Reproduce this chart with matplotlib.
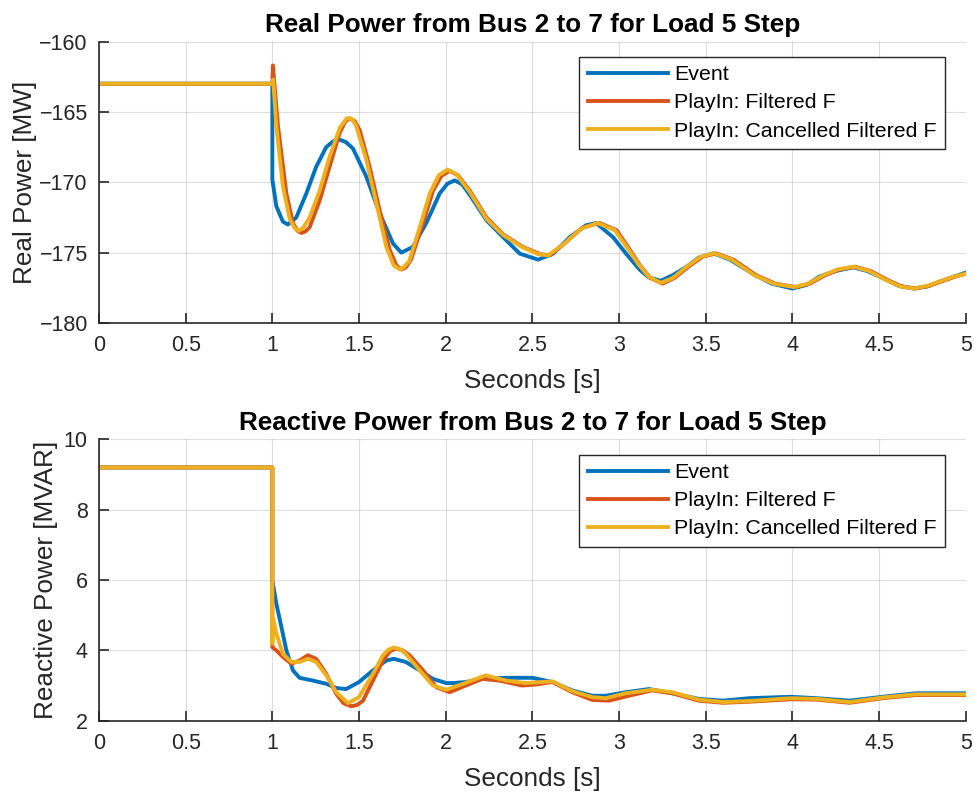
import matplotlib
matplotlib.use('Agg')
import matplotlib.pyplot as plt
from matplotlib.ticker import FuncFormatter

plt.rcParams['font.family'] = ['Liberation Sans', 'DejaVu Sans']

# ---- Real power (MW), Bus 2 -> 7 ----
p_event_t = [0, 1.0, 1.0, 1.023, 1.061, 1.09, 1.138, 1.196, 1.253, 1.311, 1.35, 1.388,
             1.425, 1.465, 1.542, 1.619, 1.696, 1.744, 1.81, 1.888, 1.965, 2.01, 2.052,
             2.095, 2.139, 2.235, 2.331, 2.427, 2.533, 2.62, 2.716, 2.81, 2.868, 2.965,
             3.04, 3.118, 3.17, 3.24, 3.31, 3.39, 3.46, 3.544, 3.64, 3.77, 3.88, 4.0,
             4.08, 4.156, 4.25, 4.349, 4.43, 4.52, 4.61, 4.7, 4.78, 4.848, 4.92, 5.0]
p_event = [-163, -163, -169.8, -171.7, -172.8, -173.0, -172.5, -170.8, -168.9, -167.5,
           -167.1, -166.97, -167.15, -167.6, -169.6, -172.2, -174.35, -175.0, -174.6,
           -172.9, -170.8, -170.1, -169.87, -170.15, -170.9, -172.7, -173.9, -175.07,
           -175.5, -175.07, -173.9, -173.05, -172.9, -173.9, -175.07, -176.2, -176.75,
           -177.0, -176.6, -176.0, -175.35, -175.05, -175.5, -176.5, -177.2, -177.55,
           -177.3, -176.7, -176.3, -176.05, -176.3, -176.8, -177.35, -177.55, -177.4,
           -177.06, -176.75, -176.42]

p_filt_t = [0, 1.0, 1.003, 1.033, 1.081, 1.119, 1.145, 1.167, 1.19, 1.215, 1.273, 1.33,
            1.388, 1.42, 1.446, 1.475, 1.504, 1.561, 1.619, 1.677, 1.715, 1.744, 1.77,
            1.8, 1.869, 1.927, 1.975, 2.023, 2.07, 2.139, 2.235, 2.331, 2.446, 2.543,
            2.6, 2.69, 2.79, 2.888, 2.985, 3.062, 3.12, 3.18, 3.25, 3.32, 3.4, 3.48,
            3.56, 3.66, 3.79, 3.9, 4.02, 4.1, 4.19, 4.27, 4.36, 4.45, 4.55, 4.63, 4.71,
            4.79, 4.87, 4.94, 5.0]
p_filt = [-163, -163, -161.7, -166.07, -170.8, -172.9, -173.45, -173.6, -173.5, -173.2,
          -171.3, -168.9, -166.5, -165.7, -165.45, -165.65, -166.3, -168.9, -172.0,
          -174.8, -175.9, -176.2, -176.05, -175.5, -172.9, -170.6, -169.55, -169.2,
          -169.5, -170.6, -172.5, -173.7, -174.6, -175.1, -175.2, -174.3, -173.2,
          -172.9, -173.4, -174.8, -175.9, -176.8, -177.2, -176.8, -176.0, -175.3,
          -175.05, -175.5, -176.6, -177.2, -177.45, -177.2, -176.6, -176.2, -176.0,
          -176.3, -176.95, -177.4, -177.55, -177.35, -177.0, -176.7, -176.5]

p_canc_t = [0, 1.0, 1.005, 1.023, 1.061, 1.1, 1.128, 1.153, 1.18, 1.215, 1.273, 1.33,
            1.39, 1.43, 1.46, 1.484, 1.542, 1.6, 1.658, 1.7, 1.735, 1.76, 1.79, 1.85,
            1.908, 1.96, 2.01, 2.06, 2.139, 2.235, 2.331, 2.44, 2.53, 2.59, 2.68, 2.78,
            2.875, 2.975, 3.05, 3.11, 3.17, 3.24, 3.31, 3.39, 3.47, 3.55, 3.65, 3.78,
            3.89, 4.01, 4.09, 4.18, 4.26, 4.35, 4.44, 4.54, 4.62, 4.7, 4.78, 4.86, 4.93,
            5.0]
p_canc = [-163, -163, -162.7, -166.0, -170.3, -172.6, -173.25, -173.45, -173.2, -172.5,
          -170.6, -168.2, -166.1, -165.45, -165.5, -166.0, -168.4, -171.5, -174.6,
          -175.9, -176.2, -176.0, -175.6, -173.2, -170.8, -169.5, -169.1, -169.4,
          -170.7, -172.6, -173.75, -174.6, -175.1, -175.2, -174.4, -173.3, -172.9,
          -173.4, -174.7, -175.8, -176.7, -177.15, -176.8, -176.0, -175.3, -175.05,
          -175.5, -176.6, -177.2, -177.45, -177.2, -176.6, -176.2, -176.0, -176.3,
          -176.95, -177.4, -177.55, -177.35, -177.0, -176.7, -176.5]

# ---- Reactive power (MVAR), Bus 2 -> 7 ----
q_event_t = [0, 1.0, 1.0, 1.023, 1.052, 1.081, 1.119, 1.157, 1.234, 1.311, 1.369, 1.426,
             1.5, 1.58, 1.657, 1.7, 1.77, 1.85, 1.926, 2.003, 2.04, 2.116, 2.212, 2.35,
             2.5, 2.616, 2.73, 2.846, 2.923, 3.038, 3.173, 3.307, 3.46, 3.6, 3.75, 3.99,
             4.14, 4.33, 4.52, 4.71, 5.0]
q_event = [9.2, 9.2, 6.0, 5.33, 4.67, 4.0, 3.43, 3.22, 3.14, 3.05, 2.93, 2.9, 3.1, 3.43,
           3.71, 3.76, 3.67, 3.43, 3.19, 3.07, 3.07, 3.1, 3.19, 3.22, 3.22, 3.1, 2.86,
           2.71, 2.71, 2.81, 2.9, 2.78, 2.62, 2.57, 2.64, 2.68, 2.64, 2.57, 2.68, 2.78,
           2.78]

q_filt_t = [0, 1.0, 1.0, 1.023, 1.061, 1.11, 1.157, 1.205, 1.253, 1.311, 1.369, 1.41,
            1.455, 1.49, 1.523, 1.58, 1.638, 1.68, 1.715, 1.75, 1.792, 1.869, 1.946,
            2.023, 2.116, 2.212, 2.31, 2.44, 2.52, 2.616, 2.73, 2.846, 2.942, 3.057,
            3.19, 3.307, 3.46, 3.6, 3.75, 3.99, 4.14, 4.33, 4.52, 4.71, 5.0]
q_filt = [9.2, 9.2, 4.09, 4.0, 3.81, 3.62, 3.71, 3.86, 3.76, 3.33, 2.76, 2.5, 2.41, 2.45,
          2.57, 3.14, 3.71, 3.98, 4.05, 4.0, 3.86, 3.43, 2.95, 2.81, 3.0, 3.19, 3.14,
          3.0, 3.03, 3.1, 2.81, 2.59, 2.57, 2.71, 2.86, 2.78, 2.57, 2.51, 2.54, 2.61,
          2.6, 2.51, 2.64, 2.73, 2.73]

q_canc_t = [0, 1.0, 1.0, 1.005, 1.023, 1.061, 1.11, 1.157, 1.205, 1.253, 1.311, 1.369,
            1.436, 1.5, 1.58, 1.638, 1.67, 1.7, 1.735, 1.77, 1.85, 1.926, 2.003, 2.1,
            2.23, 2.35, 2.46, 2.616, 2.73, 2.846, 2.923, 3.038, 3.19, 3.307, 3.46, 3.6,
            3.75, 3.99, 4.14, 4.33, 4.52, 4.71, 5.0]
q_canc = [9.2, 9.2, 4.19, 4.9, 4.48, 3.9, 3.67, 3.67, 3.76, 3.67, 3.29, 2.81, 2.5, 2.67,
          3.33, 3.86, 4.02, 4.08, 4.04, 3.9, 3.43, 3.0, 2.88, 3.05, 3.29, 3.14, 3.07,
          3.12, 2.84, 2.67, 2.64, 2.78, 2.88, 2.81, 2.6, 2.53, 2.56, 2.64, 2.62, 2.53,
          2.66, 2.75, 2.75]

labels = ['Event', 'PlayIn: Filtered F', 'PlayIn: Cancelled Filtered F']
colors = ['#0072BD', '#D95319', '#EDB120']
x_ticks = [0, 0.5, 1, 1.5, 2, 2.5, 3, 3.5, 4, 4.5, 5]

fmt = FuncFormatter(lambda v, p: '{:g}'.format(v).replace('-', '\u2212'))


def style_axes(ax, title, ylabel, ylim, yticks, ylabelpad):
    ax.set_xlim(0, 5)
    ax.set_ylim(ylim)
    ax.set_xticks(x_ticks)
    ax.set_yticks(yticks)
    ax.xaxis.set_major_formatter(fmt)
    ax.yaxis.set_major_formatter(fmt)
    for side in ['top', 'right']:
        ax.spines[side].set_visible(False)
    for side in ['left', 'bottom']:
        ax.spines[side].set_color('#262626')
        ax.spines[side].set_linewidth(1.2)
    ax.tick_params(axis='both', direction='in', length=7, width=1.2, colors='#262626',
                   labelsize=15.5)
    ax.tick_params(axis='x', pad=9)
    ax.tick_params(axis='y', pad=8)
    ax.grid(True, color='#262626', alpha=0.15, linewidth=0.8)
    ax.set_axisbelow(True)
    ax.set_title(title, fontsize=18.8, fontweight='bold', pad=7)
    ax.set_xlabel('Seconds [s]', fontsize=18.8, color='#262626', labelpad=9)
    ax.set_ylabel(ylabel, fontsize=18.8, color='#262626', labelpad=ylabelpad)
    leg = ax.legend(loc='upper right', bbox_to_anchor=(0.9758, 0.946), borderaxespad=0,
                    fontsize=15.4, handlelength=3.74, handletextpad=0.28, labelspacing=0.43,
                    borderpad=0.4, fancybox=False, framealpha=1)
    leg.get_frame().set_edgecolor('#262626')
    leg.get_frame().set_linewidth(1.0)


fig = plt.figure(figsize=(9.74, 7.94), dpi=100)
ax1 = fig.add_axes([0.1016, 0.5932, 0.890, 0.3545])
ax2 = fig.add_axes([0.1016, 0.0923, 0.890, 0.3544])

lw = 2.8
ax1.plot(p_event_t, p_event, color=colors[0], lw=lw, label=labels[0])
ax1.plot(p_filt_t, p_filt, color=colors[1], lw=lw, label=labels[1])
ax1.plot(p_canc_t, p_canc, color=colors[2], lw=lw, label=labels[2])
style_axes(ax1, 'Real Power from Bus 2 to 7 for Load 5 Step', 'Real Power [MW]',
           (-180, -160), [-180, -175, -170, -165, -160], 1.8)

ax2.plot(q_event_t, q_event, color=colors[0], lw=lw, label=labels[0])
ax2.plot(q_filt_t, q_filt, color=colors[1], lw=lw, label=labels[1])
ax2.plot(q_canc_t, q_canc, color=colors[2], lw=lw, label=labels[2])
style_axes(ax2, 'Reactive Power from Bus 2 to 7 for Load 5 Step', 'Reactive Power [MVAR]',
           (2, 10), [2, 4, 6, 8, 10], 4.5)

fig.savefig('out.png', dpi=100)
